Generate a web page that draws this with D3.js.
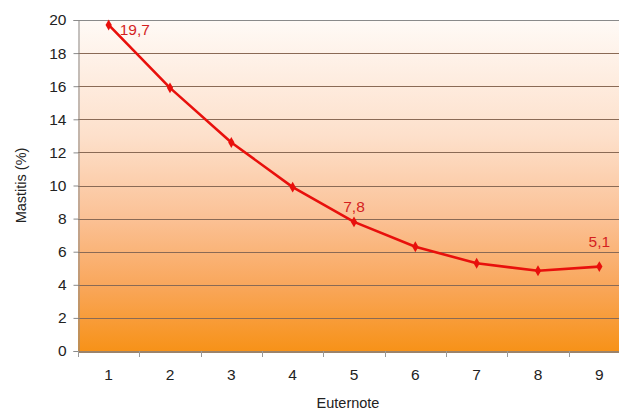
<!DOCTYPE html>
<html>
<head>
<meta charset="utf-8">
<script src="https://cdn.jsdelivr.net/npm/d3@7"></script>
<style>
  html, body { margin: 0; padding: 0; background: #fff; overflow: hidden; }
  svg { display: block; font-family: "Liberation Sans", Arial, sans-serif; }
</style>
</head>
<body>
<svg id="chart" width="619" height="412"></svg>
<script>
// Mastitis rate by udder score
const categories = ["1", "2", "3", "4", "5", "6", "7", "8", "9"];
const mastitis = [19.7, 15.9, 12.6, 9.9, 7.8, 6.3, 5.3, 4.85, 5.1];
const labelled = { "1": "19,7", "5": "7,8", "9": "5,1" };
const yTicks = [0, 2, 4, 6, 8, 10, 12, 14, 16, 18, 20];

const svg = d3.select("#chart");
const margin = { left: 78, top: 20, right: -11, bottom: 61 };
const W = 619, H = 412;
const x0 = margin.left, x1 = W - margin.right;
const y0 = H - margin.bottom, y1 = margin.top;

const x = d3.scaleBand().domain(categories).range([x0, x1]);
const y = d3.scaleLinear().domain([0, 20]).range([y0, y1]);

// background gradient of the plot area
const defs = svg.append("defs");
const grad = defs.append("linearGradient").attr("id", "bg")
  .attr("x1", 0).attr("y1", 0).attr("x2", 0).attr("y2", 1);
[[0, "#fffaf6"], [0.35, "#fde0cb"], [0.6, "#fbc195"], [0.8, "#f9a75c"], [1, "#f79218"]]
  .forEach(([o, c]) => grad.append("stop").attr("offset", o).attr("stop-color", c));

svg.append("rect")
  .attr("x", x0).attr("y", y1)
  .attr("width", x1 - x0).attr("height", y0 - y1)
  .attr("fill", "url(#bg)");

// horizontal gridlines
svg.append("g").selectAll("line").data(yTicks.filter(d => d > 0)).join("line")
  .attr("x1", x0).attr("x2", x1)
  .attr("y1", d => Math.round(y(d)) + 0.5).attr("y2", d => Math.round(y(d)) + 0.5)
  .attr("stroke", d => d === 20 ? "#8a8a8a" : "#8a6a55")
  .attr("stroke-width", 1.2);

// y axis
const yAxis = svg.append("g").attr("transform", `translate(${x0 + 0.5},0)`)
  .call(d3.axisLeft(y).tickValues(yTicks).tickSize(5).tickPadding(7));
yAxis.select(".domain").attr("stroke", "#8a8a8a");
yAxis.selectAll(".tick line").attr("stroke", "#8a8a8a");
yAxis.selectAll("text").attr("font-size", 15.5).attr("fill", "#222");

// x axis with ticks between categories
const xAxis = svg.append("g").attr("transform", `translate(0,${Math.round(y0) + 0.5})`)
  .call(d3.axisBottom(x).tickSize(0).tickPadding(17));
xAxis.select(".domain").attr("stroke", "#7a5a3a").attr("stroke-width", 1.5);
xAxis.selectAll("text").attr("font-size", 15.5).attr("fill", "#222");
svg.append("g").selectAll("line").data(categories).join("line")
  .attr("x1", d => Math.round(x(d)) + 0.5).attr("x2", d => Math.round(x(d)) + 0.5)
  .attr("y1", y0).attr("y2", y0 + 6)
  .attr("stroke", "#999");

// axis titles
svg.append("text")
  .attr("transform", `translate(26,${(y0 + y1) / 2}) rotate(-90)`)
  .attr("text-anchor", "middle").attr("font-size", 14.5).attr("fill", "#222")
  .text("Mastitis (%)");
svg.append("text")
  .attr("x", 348).attr("y", 408)
  .attr("text-anchor", "middle").attr("font-size", 14.5).attr("fill", "#222")
  .text("Euternote");

// data line
const cx = d => x(d) + x.bandwidth() / 2;
const line = d3.line().x((d, i) => cx(categories[i])).y(d => y(d));
svg.append("path").datum(mastitis)
  .attr("d", line)
  .attr("fill", "none").attr("stroke", "#e8100c").attr("stroke-width", 2.6)
  .attr("stroke-linejoin", "round");

// diamond markers
svg.append("g").selectAll("path").data(mastitis).join("path")
  .attr("transform", (d, i) => `translate(${cx(categories[i])},${y(d)})`)
  .attr("d", d3.symbol(d3.symbolDiamond, 34))
  .attr("fill", "#e8100c");

// value labels
const labelOffset = { "1": [11, 10, "start"], "5": [0, -10, "middle"], "9": [0, -20, "middle"] };
svg.append("g").selectAll("text")
  .data(categories.map((c, i) => ({ c, v: mastitis[i] })).filter(d => labelled[d.c]))
  .join("text")
  .attr("x", d => cx(d.c) + labelOffset[d.c][0])
  .attr("y", d => y(d.v) + labelOffset[d.c][1])
  .attr("text-anchor", d => labelOffset[d.c][2])
  .attr("font-size", 15.5).attr("fill", "#d41f1f")
  .text(d => labelled[d.c]);
</script>
</body>
</html>
